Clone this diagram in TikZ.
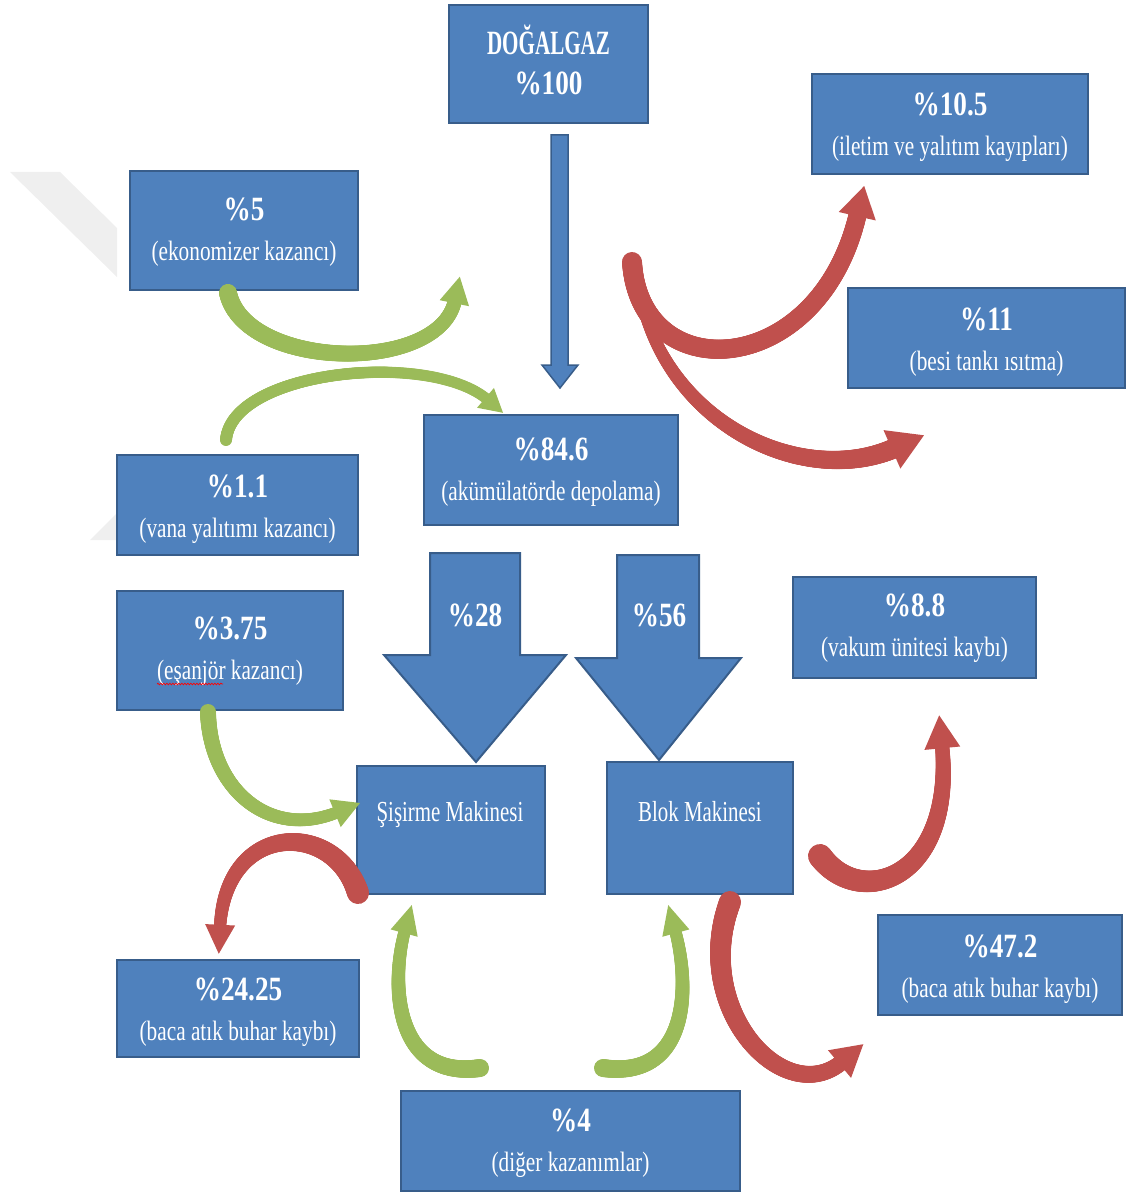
\documentclass[tikz,border=0pt]{standalone}
\usepackage{fontspec}
\setmainfont{Liberation Serif}[FakeStretch=0.76]
\newfontfamily\hdfont{Liberation Serif}[FakeStretch=0.8]
\newfontfamily\hdnarrow{Liberation Serif}[FakeStretch=0.62]
\newfontfamily\machfont{Liberation Serif}[FakeStretch=0.72]
\usetikzlibrary{decorations.markings,decorations.pathmorphing}
\definecolor{boxblue}{HTML}{4F81BD}
\definecolor{boxedge}{HTML}{385D8A}
\definecolor{arrgreen}{HTML}{9BBB59}
\definecolor{arrred}{HTML}{C0504D}
\definecolor{wmark}{HTML}{EFEFEF}
\newcommand\hd[1]{{\hdfont\bfseries\fontsize{34}{40}\selectfont #1}}
% tapered curved arrow: colour, start width, end width, head half width, head length, path
\newcommand\tapered[6]{%
  \path[postaction={decorate,decoration={markings,
    mark=between positions 0 and 1 step 1pt with {%
      \pgfmathsetmacro\tapr{(#2+(#3-#2)*(\pgfkeysvalueof{/pgf/decoration/mark info/distance from start})/(\pgfdecoratedpathlength))/2}%
      \fill[#1] (0pt,0pt) circle[radius=\tapr pt];}}},
    postaction={decorate,decoration={markings,
    mark=at position 0.999 with {\fill[#1] (-3pt,#4pt) -- (#5pt,0pt) -- (-3pt,-#4pt) -- cycle;}}}] #6;}
\tikzset{
  box/.style={draw=boxedge, fill=boxblue, line width=2.5pt, inner sep=0pt},
  boxtext/.style={text=white, inner sep=0pt, align=center, font=\fontsize{28}{40}\selectfont},
  mlabel/.style={text=white, inner sep=0pt, font=\machfont\fontsize{29}{30}\selectfont},
  alabel/.style={text=white, inner sep=0pt, font=\hdfont\bfseries\fontsize{34}{34}\selectfont},
  blockarrow/.style={draw=boxedge, fill=boxblue, line width=2pt, line join=miter}
}
\begin{document}
\begin{tikzpicture}[x=1pt,y=-1pt]
\useasboundingbox (0,0) rectangle (1129,1193);
% faint watermark
\fill[wmark] (10,172) -- (60,172) -- (117,228) -- (117,277) -- cycle;
\fill[wmark] (90,540) -- (117,513) -- (117,540) -- cycle;

% boxes
\node[box, minimum width=199pt, minimum height=118pt] (dog) at (548.5,64) {};
\node[boxtext, yshift=4pt] (dogt) at (dog.center) {{\hdnarrow\bfseries\fontsize{34}{40}\selectfont DOĞALGAZ}\\\hd{\%100}};
\node[box, minimum width=276pt, minimum height=100pt] (k105) at (950,124) {};
\node[boxtext, yshift=-3pt] (k105t) at (k105.center) {\hd{\%10.5}\\(iletim ve yalıtım kayıpları)};
\node[box, minimum width=228pt, minimum height=119pt] (k5) at (244,230.5) {};
\node[boxtext, yshift=-2pt] (k5t) at (k5.center) {\hd{\%5}\\(ekonomizer kazancı)};
\node[box, minimum width=277pt, minimum height=100pt] (k11) at (986.5,338) {};
\node[boxtext, yshift=-4pt] (k11t) at (k11.center) {\hd{\%11}\\(besi tankı ısıtma)};
\node[box, minimum width=254pt, minimum height=110pt] (k846) at (551,470) {};
\node[boxtext, yshift=-2pt] (k846t) at (k846.center) {\hd{\%84.6}\\(akümülatörde depolama)};
\node[box, minimum width=241pt, minimum height=100pt] (k11v) at (237.5,505) {};
\node[boxtext, yshift=-4pt] (k11vt) at (k11v.center) {\hd{\%1.1}\\(vana yalıtımı kazancı)};
\node[box, minimum width=226pt, minimum height=119pt] (k375) at (230,650.5) {};
\node[boxtext, yshift=-1pt] (k375t) at (k375.center) {\hd{\%3.75}\\(eşanjör kazancı)};
\node[box, minimum width=243pt, minimum height=101pt] (k88) at (914.5,627.5) {};
\node[boxtext, yshift=-1pt] (k88t) at (k88.center) {\hd{\%8.8}\\(vakum ünitesi kaybı)};
\node[box, minimum width=188pt, minimum height=128pt] (sis) at (451,830) {};
\node[mlabel] (sislbl) at (450,815) {Şişirme Makinesi};
\node[box, minimum width=186pt, minimum height=132pt] (blok) at (700,828) {};
\node[mlabel] (bloklbl) at (700,812) {Blok Makinesi};
\node[box, minimum width=242pt, minimum height=97pt] (k2425) at (238,1008.5) {};
\node[boxtext, yshift=-4pt] (k2425t) at (k2425.center) {\hd{\%24.25}\\(baca atık buhar kaybı)};
\node[box, minimum width=244pt, minimum height=100pt] (k472) at (1000,965) {};
\node[boxtext, yshift=-4pt] (k472t) at (k472.center) {\hd{\%47.2}\\(baca atık buhar kaybı)};
\node[box, minimum width=339pt, minimum height=100pt] (k4) at (570.5,1141) {};
\node[boxtext, yshift=-2pt] (k4t) at (k4.center) {\hd{\%4}\\(diğer kazanımlar)};

% spell-check underline
\draw[red, line width=0.7pt, decorate, decoration={snake, amplitude=0.8pt, segment length=3pt}] (157,684) -- (223,684);

% thin blue arrow from DOGALGAZ
\draw[blockarrow, line width=1.5pt] (551,135) -- (568,135) -- (568,365) -- (578,365) -- (560,388) -- (542,365) -- (551,365) -- cycle;

% block arrows
\draw[blockarrow] (430,553) -- (520,553) -- (520,655) -- (566,655) -- (476,762) -- (384,655) -- (430,655) -- cycle;
\node[alabel] (a28) at (475,615) {\%28};
\draw[blockarrow] (617,555) -- (699,555) -- (699,658) -- (741,658) -- (659,760) -- (576,658) -- (617,658) -- cycle;
\node[alabel] (a56) at (659,615) {\%56};

% curved arrow end points
\coordinate (g1s) at (228,293);  \coordinate (g1e) at (455,300);
\coordinate (g2s) at (226,440);  \coordinate (g2e) at (488,400);
\coordinate (r1s) at (632,262);  \coordinate (r1e) at (858,213);
\coordinate (r2s) at (635,265);  \coordinate (r2e) at (895,448);
\coordinate (g3s) at (208,712);  \coordinate (g3e) at (338,812);
\coordinate (r3s) at (358,893);  \coordinate (r3e) at (220,928);
\coordinate (g4s) at (480,1068); \coordinate (g4e) at (405,930);
\coordinate (g5s) at (603,1068); \coordinate (g5e) at (675,930);
\coordinate (r4s) at (730,902);  \coordinate (r4e) at (842,1062);
\coordinate (r5s) at (820,856);  \coordinate (r5e) at (942,745);

\tapered{arrgreen}{18}{14}{15}{24}{(g1s) .. controls (245,370) and (440,375) .. (g1e)}
\tapered{arrgreen}{12}{11}{13}{20}{(g2s) .. controls (232,370) and (430,350) .. (g2e)}
\tapered{arrred}{20}{18}{19}{28}{(r1s) .. controls (640,390) and (820,380) .. (r1e)}
\tapered{arrred}{10}{20}{21}{32}{(r2s) .. controls (650,420) and (800,490) .. (r2e)}
\tapered{arrgreen}{16}{12}{15}{24}{(g3s) .. controls (210,790) and (270,840) .. (g3e)}
\tapered{arrred}{22}{12}{15}{26}{(r3s) .. controls (335,820) and (225,820) .. (r3e)}
\tapered{arrgreen}{18}{12}{14}{26}{(g4s) .. controls (395,1080) and (390,985) .. (g4e)}
\tapered{arrgreen}{18}{12}{14}{26}{(g5s) .. controls (690,1080) and (690,985) .. (g5e)}
\tapered{arrred}{22}{16}{18}{28}{(r4s) .. controls (690,1010) and (785,1110) .. (r4e)}
\tapered{arrred}{24}{14}{18}{30}{(r5s) .. controls (860,910) and (955,880) .. (r5e)}
\end{tikzpicture}
\end{document}
